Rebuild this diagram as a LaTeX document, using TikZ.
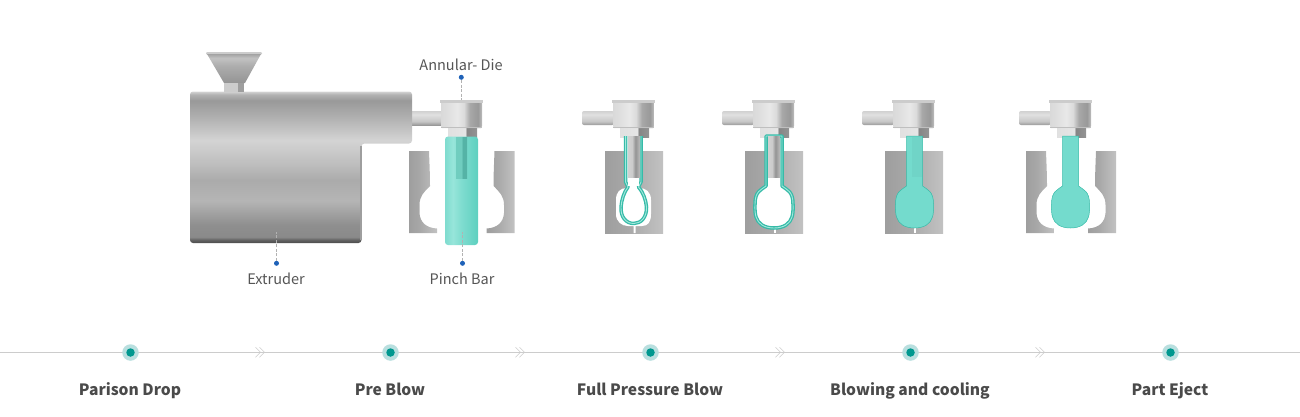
\documentclass[tikz,border=0pt]{standalone}
\usepackage{fontspec}
\setmainfont{Noto Sans CJK KR}
\definecolor{labelgray}{HTML}{555555}
\definecolor{stagegray}{HTML}{4A4A4A}
\definecolor{railgray}{HTML}{CCCCCC}
\definecolor{dotblue}{HTML}{1F62B8}
\definecolor{ringteal}{HTML}{B9DFDF}
\definecolor{coreteal}{HTML}{00988F}
\definecolor{resinfill}{HTML}{74DBCD}
\definecolor{resinline}{HTML}{36BBA8}
\definecolor{resinpale}{HTML}{A4E8DD}
\definecolor{parisonleft}{HTML}{7FDCCF}
\definecolor{parisonhigh}{HTML}{97E5DA}
\definecolor{parisonright}{HTML}{5DD0BF}
\definecolor{coreleft}{HTML}{70CDBF}
\definecolor{coreright}{HTML}{55B3A6}
\pgfdeclareverticalshading{extrudermetal}{100bp}{color(0bp)=(black!70); color(25bp)=(black!70); color(26bp)=(black!62); color(27bp)=(black!46); color(31bp)=(black!44); color(39bp)=(black!29); color(45.7bp)=(black!33); color(50.7bp)=(black!26); color(58.9bp)=(black!17); color(67.1bp)=(black!32); color(72bp)=(black!40); color(74bp)=(black!30); color(75bp)=(black!17); color(100bp)=(black!17)}
\pgfdeclareverticalshading{hoppermetal}{100bp}{color(0bp)=(black!42); color(25bp)=(black!42); color(55bp)=(black!32); color(68bp)=(black!24); color(75bp)=(black!36); color(100bp)=(black!36)}
\pgfdeclareverticalshading{pipemetal}{100bp}{color(0bp)=(black!40); color(25bp)=(black!40); color(38bp)=(black!22); color(62bp)=(black!12); color(75bp)=(black!18); color(100bp)=(black!18)}
\pgfdeclarehorizontalshading{diemetal}{100bp}{color(0bp)=(black!15); color(25bp)=(black!15); color(45bp)=(black!9); color(53bp)=(black!14); color(60bp)=(black!34); color(70bp)=(black!40); color(75bp)=(black!26); color(100bp)=(black!26)}
\pgfdeclarehorizontalshading{collarmetal}{100bp}{color(0bp)=(black!12); color(25bp)=(black!12); color(55bp)=(black!10); color(57bp)=(black!48); color(75bp)=(black!42); color(100bp)=(black!42)}
\pgfdeclarehorizontalshading{stemmetal}{100bp}{color(0bp)=(black!18); color(25bp)=(black!18); color(42bp)=(black!20); color(56bp)=(black!42); color(75bp)=(black!26); color(100bp)=(black!26)}
\pgfdeclarehorizontalshading{moldmetal}{100bp}{color(0bp)=(black!38); color(25bp)=(black!38); color(45bp)=(black!34); color(75bp)=(black!24); color(100bp)=(black!24)}
\pgfdeclarehorizontalshading{parisonteal}{100bp}{color(0bp)=(parisonleft); color(25bp)=(parisonleft); color(37bp)=(parisonhigh); color(50bp)=(parisonleft); color(75bp)=(parisonright); color(100bp)=(parisonright)}
\pgfdeclarehorizontalshading{coreteal}{100bp}{color(0bp)=(coreleft); color(25bp)=(coreleft); color(50bp)=(coreleft); color(55bp)=(coreright); color(75bp)=(coreright); color(100bp)=(coreright)}
\tikzset{
  stagelabel/.style={font=\fontsize{15.6}{18}\selectfont\bfseries,text=stagegray,inner sep=0pt,anchor=base},
  partlabel/.style={font=\fontsize{14.5}{16}\selectfont,text=labelgray,inner sep=0pt,anchor=base},
  leaderdot/.style={circle,fill=dotblue,minimum size=5pt,inner sep=0pt},
  leaderline/.style={black!30,line width=.7pt,dash pattern=on 3pt off 1.5pt},
  stagering/.style={circle,fill=ringteal,minimum size=16.5pt,inner sep=0pt},
  stagecore/.style={circle,fill=coreteal,minimum size=8.5pt,inner sep=0pt},
  chevron/.style={railgray,line width=.6pt},
  resinwall/.style={draw=resinline,line width=1.3pt,double=resinpale,double distance=.9pt,fill=white,line join=round},
  resinsolid/.style={draw=resinline,line width=.5pt,fill=resinfill}
}
\newcommand{\diehead}[1]{
\begin{scope}[xshift=#1pt]
\shade[shading=collarmetal] (7,127) rectangle (36,137);
\shade[shading=diemetal] (0,102) -- (41,102) -- (41,126) -- (40,128) -- (1,128) -- (0,126) -- cycle;
\fill[black!20] (-1,100) rectangle (42,102.5);
\fill[black!25] (0,127) rectangle (41,128.3);
\end{scope}}
\newcommand{\diepipe}[1]{
\shade[shading=pipemetal,rounded corners=2pt] (#1-31,111) rectangle (#1+1,125);}
\newcommand{\moldhalf}{
\shade[shading=moldmetal] (0,151) -- (20,151) .. controls (20.5,165) and (21,175) .. (21,186) .. controls (15,192) and (10.5,196) .. (10.5,205) -- (10.5,213) .. controls (11,222) and (17,228) .. (28,228.5) -- (28,233) -- (0,233) -- cycle;}
\newcommand{\moldblock}[1]{
\shade[shading=moldmetal] (#1,151) rectangle (#1+58,233);}
\newcommand{\stemcore}[1]{
\shade[shading=stemmetal] (#1-6,136.5) rectangle (#1+6,177);}
\newcommand{\bulbpath}{
(-8,136) -- (-8,186) .. controls (-13,190) and (-19,191) .. (-19,204) .. controls (-19.5,215) and (-18,221) .. (-12,225) .. controls (-6,229) and (6,229) .. (12,225) .. controls (18,221) and (19.5,215) .. (19,204) .. controls (19,191) and (13,190) .. (8,186) -- (8,136) -- cycle}
\begin{document}
\begin{tikzpicture}[x=1pt,y=-1pt]
\useasboundingbox (0,0) rectangle (1300,416);
\shade[shading=pipemetal] (412,111) rectangle (442,125);
\shade[shading=extrudermetal,rounded corners=3pt] (300,91.5) -- (412,91.5) -- (412,143.5) -- (361.5,143.5) -- (361.5,243) -- (190,243) -- (190,91.5) -- cycle;
\fill[black!38] (359.5,146) rectangle (361.5,240);
\fill[black!20,rounded corners=1pt] (206,52) rectangle (262,54.5);
\shade[shading=hoppermetal] (207,54) -- (261,54) -- (245,83) -- (224,83) -- cycle;
\fill[black!20] (224,83) rectangle (238,92);
\fill[black!38] (238,83) rectangle (244,92);
\diehead{441}
\begin{scope}[xshift=409pt]\moldhalf\end{scope}
\begin{scope}[xshift=514.5pt,xscale=-1]\moldhalf\end{scope}
\shade[shading=parisonteal,rounded corners=3pt] (445,136.5) rectangle (478,245);
\shade[shading=coreteal] (456,137) rectangle (467,178);
\foreach \dx in {613,753,893} {
\diepipe{\dx}
\diehead{\dx}
\moldblock{\dx-8}
}
\fill[white] (627,188) .. controls (620,188) and (616,192) .. (616,200) -- (616,214) .. controls (616,222) and (622,226) .. (628,226) -- (633.5,226) -- (633.5,233) -- (635.5,233) -- (635.5,226) -- (642,226) .. controls (648,226) and (651,222) .. (651,214) -- (651,200) .. controls (651,192) and (646,188) .. (639,188) -- cycle;
\draw[resinwall] (625.6,136) -- (625.6,182) -- (628,187) .. controls (624,192) and (621.5,200) .. (621,207) .. controls (620.5,217) and (626,223.5) .. (633.8,223.5) .. controls (641,223.5) and (647,217) .. (646.5,207) .. controls (646,200) and (643,192) .. (638.5,187) -- (641,182) -- (641,136);
\fill[white] (628,176) rectangle (639,186);
\stemcore{634}
\fill[white] (773.5,226) rectangle (775.5,233);
\begin{scope}[xshift=774pt]
\draw[resinwall] \bulbpath;
\end{scope}
\stemcore{774}
\fill[white] (913.5,226) rectangle (915.5,233);
\begin{scope}[xshift=914.5pt]
\draw[resinsolid] \bulbpath;
\fill[black!3!resinfill] (-3,137) rectangle (7.7,177);
\end{scope}
\diepipe{1050}
\diehead{1050}
\begin{scope}[xshift=1026pt]\moldhalf\end{scope}
\begin{scope}[xshift=1116pt,xscale=-1]\moldhalf\end{scope}
\begin{scope}[xshift=1070.5pt]
\draw[resinsolid] \bulbpath;
\end{scope}
\node[partlabel] (annularlabel) at (461,70) {Annular- Die};
\node[leaderdot] (annulardot) at (461.3,77.3) {};
\coordinate (annulartip) at (461.3,100);
\draw[leaderline] (annulardot) -- (annulartip);
\node[partlabel] (extruderlabel) at (276,284) {Extruder};
\node[leaderdot] (extruderdot) at (276.5,263.3) {};
\coordinate (extrudertip) at (276.5,232);
\draw[leaderline] (extruderdot) -- (extrudertip);
\node[partlabel] (pinchlabel) at (462,284) {Pinch Bar};
\node[leaderdot] (pinchdot) at (462.5,263.3) {};
\coordinate (pinchtip) at (462.5,232);
\draw[leaderline] (pinchdot) -- (pinchtip);
\coordinate (railstart) at (0,352.3);
\coordinate (railend) at (1300,352.3);
\draw[railgray,line width=.8pt] (railstart) -- (railend);
\foreach \cx in {260,520,780,1040} {
\draw[chevron] (\cx-4.5,347.3) -- (\cx+.5,352.3) -- (\cx-4.5,357.3);
\draw[chevron] (\cx-.5,347.3) -- (\cx+4.5,352.3) -- (\cx-.5,357.3);
}
\foreach \sx/\sname/\stext in {130/parison/Parison Drop,390/preblow/Pre Blow,650/fullblow/Full Pressure Blow,910/cooling/Blowing and cooling,1170/eject/Part Eject} {
\node[stagering] (\sname ring) at (\sx+.5,352.5) {};
\node[stagecore] (\sname core) at (\sx+.5,352.5) {};
\node[stagelabel] (\sname label) at (\sx,395) {\stext};
}
\end{tikzpicture}
\end{document}
